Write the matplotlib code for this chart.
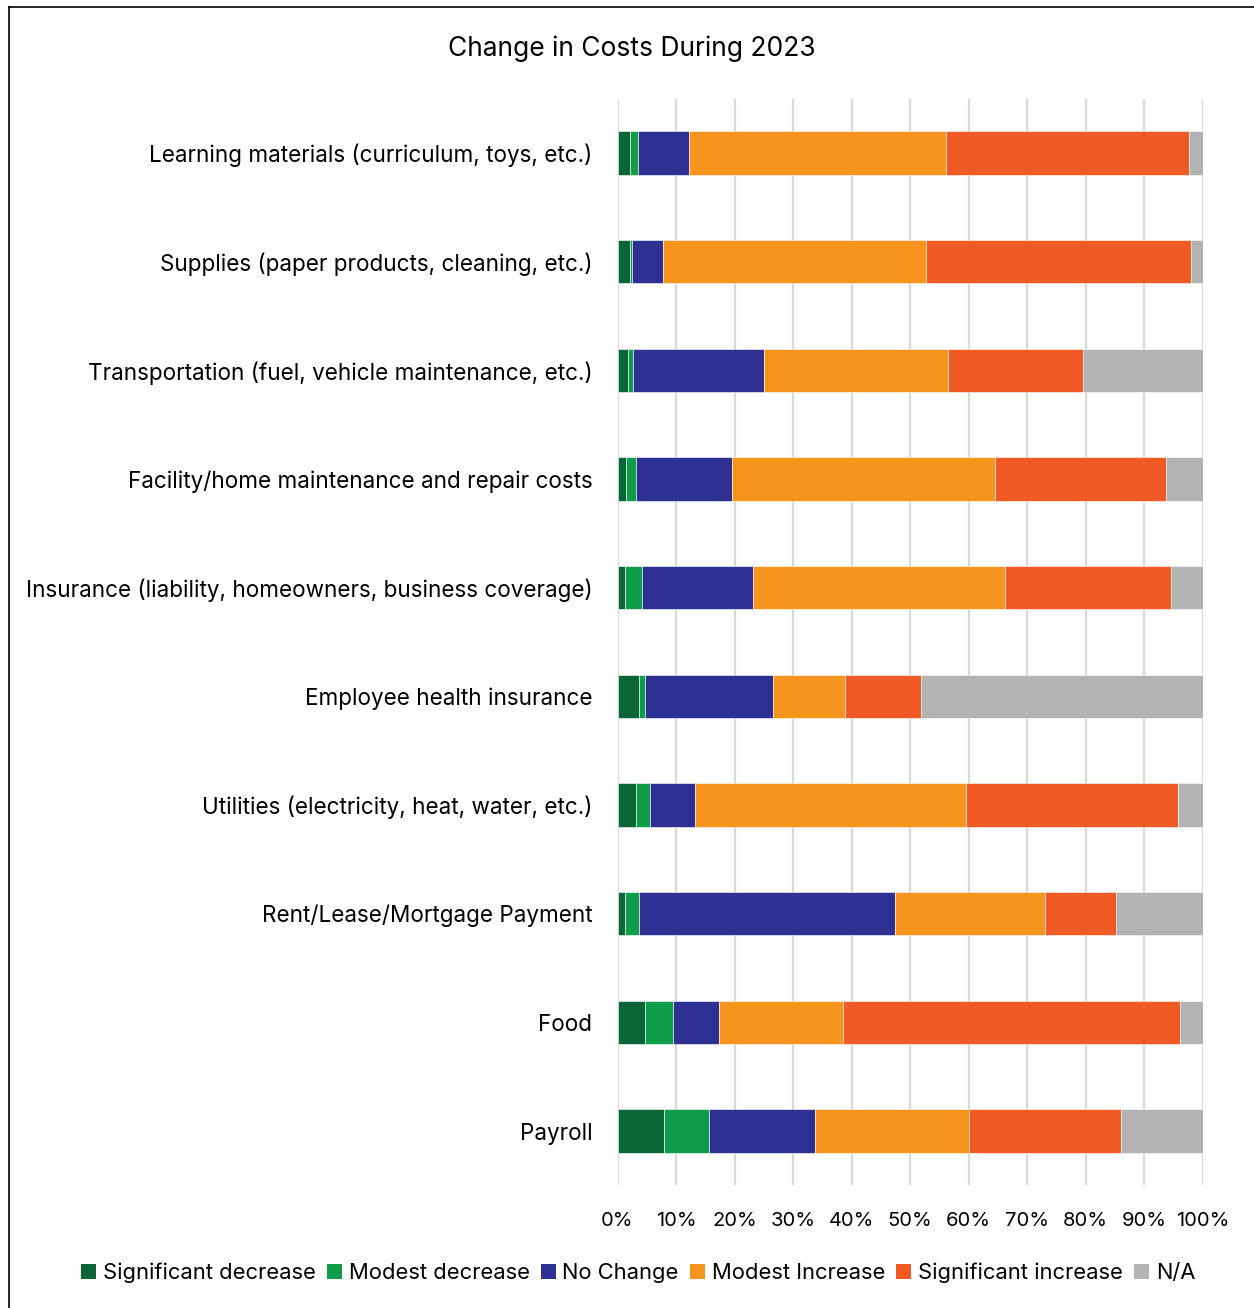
import matplotlib
matplotlib.use('Agg')
import matplotlib.pyplot as plt
from matplotlib.lines import Line2D
from matplotlib.patches import Patch
import numpy as np

plt.rcParams['font.family'] = ['Inter', 'DejaVu Sans']

categories = ['Learning materials (curriculum, toys, etc.)',
              'Supplies (paper products, cleaning, etc.)',
              'Transportation (fuel, vehicle maintenance, etc.)',
              'Facility/home maintenance and repair costs',
              'Insurance (liability, homeowners, business coverage)',
              'Employee health insurance',
              'Utilities (electricity, heat, water, etc.)',
              'Rent/Lease/Mortgage Payment',
              'Food',
              'Payroll']

series_names = ['Significant decrease', 'Modest decrease', 'No Change',
                'Modest Increase', 'Significant increase', 'N/A']

sig_decrease = [2.2, 2.2, 1.85, 1.5, 1.2, 3.6, 3.2, 1.2, 4.7, 8.0]
mod_decrease = [1.3, 0.35, 0.75, 1.7, 3.0, 1.1, 2.3, 2.4, 4.8, 7.6]
no_change = [8.8, 5.25, 22.4, 16.3, 19.0, 21.9, 7.7, 43.9, 7.9, 18.2]
mod_increase = [43.8, 44.95, 31.45, 45.1, 43.0, 12.3, 46.3, 25.6, 21.1, 26.2]
sig_increase = [41.6, 45.3, 23.1, 29.1, 28.5, 13.0, 36.3, 12.1, 57.6, 26.0]
not_applicable = [2.3, 1.95, 20.45, 6.3, 5.3, 48.1, 4.2, 14.8, 3.9, 14.0]

colors = ['#0b6637', '#0f9d4a', '#2e3192', '#f7941e', '#f15a24', '#b3b3b3']

fig = plt.figure(figsize=(12.54, 13.08), dpi=100)
ax = fig.add_axes([617.5/1254, 1 - 1185.4/1308, 585/1254, (1185.4 - 98.6)/1308])

y = np.arange(len(categories))
left = np.zeros(len(categories))
all_series = [sig_decrease, mod_decrease, no_change, mod_increase, sig_increase, not_applicable]
for vals, name, c in zip(all_series, series_names, colors):
    ax.barh(y, vals, left=left, height=0.4, color=c, edgecolor='white',
            linewidth=0.4, label=name, zorder=3)
    left = left + np.array(vals)

ax.set_xlim(0, 100)
ax.set_ylim(len(categories) - 0.5, -0.5)
ax.set_xticks(np.arange(0, 101, 10))
ax.set_xticklabels([str(v) + '%' for v in range(0, 101, 10)], fontsize=14.5)
ax.set_yticks(y)
ax.set_yticklabels(categories, fontsize=16.2)
ax.tick_params(axis='both', length=0)
ax.tick_params(axis='y', pad=18)
ax.tick_params(axis='x', pad=19)
ax.grid(axis='x', color='#d9d9d9', linewidth=1.6, zorder=0)
for s in ax.spines.values():
    s.set_visible(False)

fig.text(632/1254, 1 - 49/1308, 'Change in Costs During 2023', ha='center',
         va='center', fontsize=19)

handles = [Patch(facecolor=c, edgecolor='none') for c in colors]
fig.legend(handles, series_names, loc='center', bbox_to_anchor=(638/1254, 1 - 1273/1308),
           ncol=6, frameon=False, fontsize=15.8, handlelength=0.7, handleheight=0.7,
           handletextpad=0.3, columnspacing=0.5, borderaxespad=0)

# frame around the chart
fig.add_artist(Line2D([9/1254, 9/1254], [0, 1 - 7/1308], color='black', linewidth=1.2,
                      transform=fig.transFigure))
fig.add_artist(Line2D([9/1254, 1], [1 - 7/1308, 1 - 7/1308], color='black', linewidth=1.2,
                      transform=fig.transFigure))

plt.savefig('out.png', dpi=100)
